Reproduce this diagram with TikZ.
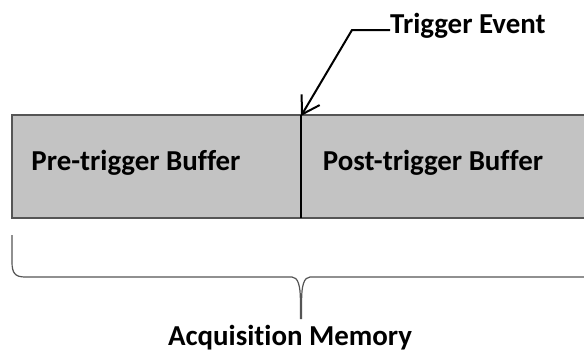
\documentclass[tikz,border=0pt]{standalone}
\usepackage{fontspec}
\setmainfont{Carlito}[Ligatures={NoCommon,NoRequired,NoContextual}]
\usetikzlibrary{arrows.meta}

\definecolor{buffergray}{HTML}{C3C3C3}
\definecolor{edgegray}{HTML}{555555}

\tikzset{
    buftext/.style={font=\fontsize{28.9}{34}\selectfont\bfseries, inner sep=0pt, anchor=base},
    bracepath/.style={draw=edgegray, line width=1.2pt},
    leader/.style={line width=2pt, -{Straight Barb[length=17pt,width=21pt,line width=2pt]}}
}

\begin{document}
\begin{tikzpicture}[x=1pt, y=-1pt]
    \clip (0,0) rectangle (584,351);
    \fill[white] (0,0) rectangle (584,351);

    % -----------------------------------------------------
    % Acquisition memory bar, split at the trigger point
    % -----------------------------------------------------
    \filldraw[fill=buffergray, draw=edgegray, line width=1.3pt] (12,115) rectangle (600,218);
    \coordinate (trigtop) at (301,115);
    \coordinate (trigbot) at (301,218);
    \draw[line width=2.2pt] (trigtop) -- (trigbot);

    % buffer labels
    \node[buftext] (pre) at (136,170.7) {Pre-trigger Buffer};
    \node[buftext] (post) at (433,170.7) {Post-trigger Buffer};

    % -----------------------------------------------------
    % Trigger event callout
    % -----------------------------------------------------
    \node[buftext, anchor=base west] (trig) at (390,33) {Trigger Event};
    \coordinate (bend) at (352,30);
    \draw[leader] (trig.west |- bend) -- (bend) -- ([yshift=-1pt]trigtop);

    % -----------------------------------------------------
    % Brace under the whole memory
    % -----------------------------------------------------
    \coordinate (bracetip) at (301,319);
    \draw[bracepath] (12,235) -- (12,262) .. controls (12,273) and (15,277) .. (25,277)
        -- (292,277) .. controls (298,277) and (300.4,286) .. (300.4,300) -- (300.4,319);
    \draw[bracepath] (301.6,319) -- (301.6,300) .. controls (301.6,286) and (304,277) .. (310,277)
        -- (600,277);

    \node[buftext] (acq) at (290,345) {Acquisition Memory};
\end{tikzpicture}
\end{document}
